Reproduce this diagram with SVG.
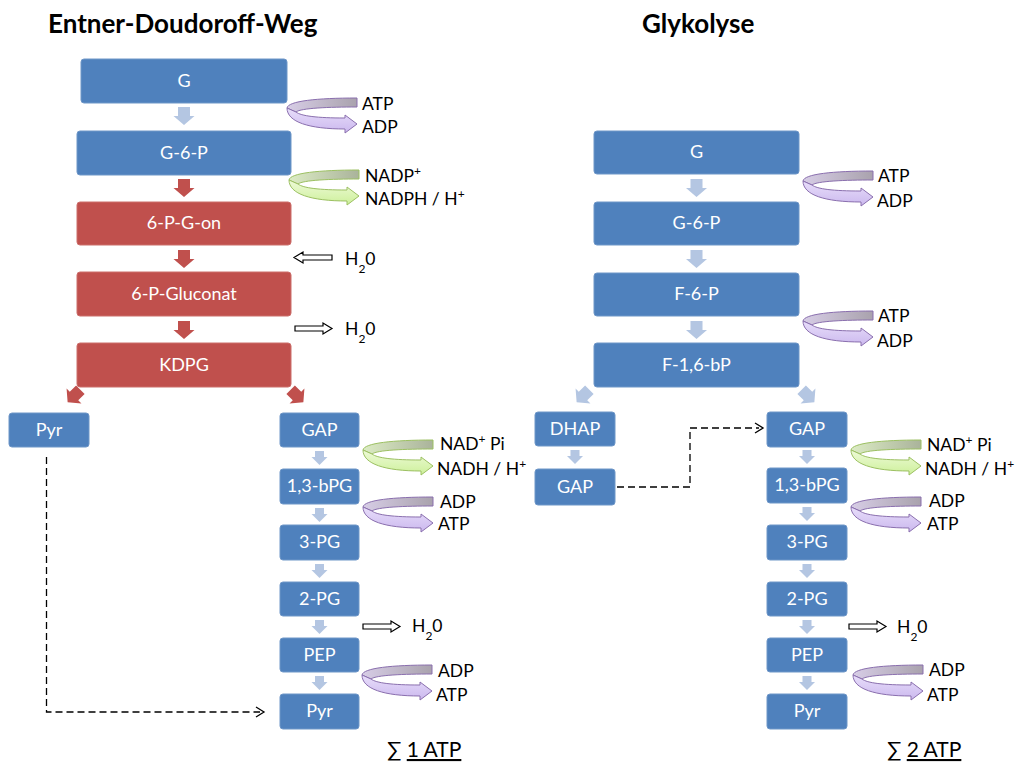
<svg xmlns="http://www.w3.org/2000/svg" xmlns:xlink="http://www.w3.org/1999/xlink" width="1015" height="764" viewBox="0 0 1015 764">
  <style>
    .title { font-family: Lato, "Liberation Sans", sans-serif; font-weight: bold; font-size: 26px; fill: #000; }
    .box-b { fill: #4f81bd; stroke: #6f97c8; stroke-width: 1; }
    .box-r { fill: #c0504d; stroke: #cc6e6b; stroke-width: 1; }
    .lbl { font-family: Lato, "Liberation Sans", sans-serif; font-size: 18px; fill: #fff; text-anchor: middle; }
    .side { font-family: Lato, "Liberation Sans", sans-serif; font-size: 17.5px; fill: #000; }
    .sum { font-family: Lato, "Liberation Sans", sans-serif; font-size: 21px; fill: #000; }
    .arr-b { fill: #b4c6e2; }
    .arr-r { fill: #c0504d; }
    .h2o { fill: #fff; stroke: #000; stroke-width: 1.2; }
    .dash { fill: none; stroke: #000; stroke-width: 1.3; stroke-dasharray: 7 4; }
    .head { fill: none; stroke: #000; stroke-width: 1.3; }
  </style>
  <defs>
    <linearGradient id="backP" x1="0" y1="0" x2="1" y2="0">
      <stop offset="0" stop-color="#d7cde6"/>
      <stop offset="1" stop-color="#a9a2ad"/>
    </linearGradient>
    <linearGradient id="frontP" x1="0" y1="0" x2="0" y2="1">
      <stop offset="0" stop-color="#e8defa"/>
      <stop offset="1" stop-color="#cbb8ee"/>
    </linearGradient>
    <linearGradient id="backG" x1="0" y1="0" x2="1" y2="0">
      <stop offset="0" stop-color="#dcecc4"/>
      <stop offset="1" stop-color="#aab39b"/>
    </linearGradient>
    <linearGradient id="frontG" x1="0" y1="0" x2="0" y2="1">
      <stop offset="0" stop-color="#eefad8"/>
      <stop offset="1" stop-color="#cdf09a"/>
    </linearGradient>
    <!-- curled ribbon arrow: back band + front band with head -->
    <g id="loopP">
      <path d="M70,0 L70,9 C42,9 14,10 9,14 L0,10 C1,3 30,0 70,0 Z" fill="url(#backP)" stroke="#8a6fae" stroke-width="1"/>
      <path d="M0,10 C0,24 22,31 58,31 L58,35 L70,26 L58,17 L58,20 C30,20 14,18 9,14 Z" fill="url(#frontP)" stroke="#8a6fae" stroke-width="1"/>
    </g>
    <g id="loopG">
      <path d="M70,0 L70,9 C42,9 14,10 9,14 L0,10 C1,3 30,0 70,0 Z" fill="url(#backG)" stroke="#9cc062" stroke-width="1"/>
      <path d="M0,10 C0,24 22,31 58,31 L58,35 L70,26 L58,17 L58,20 C30,20 14,18 9,14 Z" fill="url(#frontG)" stroke="#9cc062" stroke-width="1"/>
    </g>
    <!-- block arrows pointing down, origin at top centre -->
    <path id="bigDown" d="M-6,0 H6 V9 H10.5 L0,18 L-10.5,9 H-6 Z"/>
    <path id="bigDiag" d="M-6,-9 H6 V0 H10.5 L0,9 L-10.5,0 H-6 Z"/>
    <path id="smallDown" d="M-4.5,0 H4.5 V6 H8 L0,14 L-8,6 H-4.5 Z"/>
  </defs>

  <rect width="1015" height="764" fill="#fff"/>

  <text class="title" x="48" y="33">Entner-Doudoroff-Weg</text>
  <text class="title" x="642" y="33">Glykolyse</text>

  <!-- connectors -->
  <g id="connectors">
    <!-- Entner-Doudoroff main chain -->
    <use xlink:href="#bigDown" class="arr-b" x="184" y="107"/>
    <use xlink:href="#bigDown" class="arr-r" x="184" y="179"/>
    <use xlink:href="#bigDown" class="arr-r" x="184" y="250"/>
    <use xlink:href="#bigDown" class="arr-r" x="184" y="321"/>
    <use xlink:href="#bigDiag" class="arr-r" transform="translate(74,396) rotate(45)"/>
    <use xlink:href="#bigDiag" class="arr-r" transform="translate(297,396) rotate(-45)"/>
    <use xlink:href="#smallDown" class="arr-b" x="319.5" y="451"/>
    <use xlink:href="#smallDown" class="arr-b" x="319.5" y="508"/>
    <use xlink:href="#smallDown" class="arr-b" x="319.5" y="564"/>
    <use xlink:href="#smallDown" class="arr-b" x="319.5" y="620"/>
    <use xlink:href="#smallDown" class="arr-b" x="319.5" y="676"/>
    <path class="dash" d="M46.5,457 V712 H260"/>
    <path class="head" d="M256,707 L264,712 L256,717"/>

    <!-- Glykolyse main chain -->
    <use xlink:href="#bigDown" class="arr-b" x="696.5" y="179"/>
    <use xlink:href="#bigDown" class="arr-b" x="696.5" y="250"/>
    <use xlink:href="#bigDown" class="arr-b" x="696.5" y="321"/>
    <use xlink:href="#bigDiag" class="arr-b" transform="translate(583,396) rotate(45)"/>
    <use xlink:href="#bigDiag" class="arr-b" transform="translate(808,396) rotate(-45)"/>
    <use xlink:href="#smallDown" class="arr-b" x="575" y="450"/>
    <use xlink:href="#smallDown" class="arr-b" x="807" y="450"/>
    <use xlink:href="#smallDown" class="arr-b" x="807" y="507"/>
    <use xlink:href="#smallDown" class="arr-b" x="807" y="564"/>
    <use xlink:href="#smallDown" class="arr-b" x="807" y="620"/>
    <use xlink:href="#smallDown" class="arr-b" x="807" y="676"/>
    <path class="dash" d="M617,487 H690 V428 H759"/>
    <path class="head" d="M755,423 L763,428 L755,433"/>

    <!-- cofactor loops, Entner-Doudoroff -->
    <use xlink:href="#loopP" x="287" y="98"/>
    <use xlink:href="#loopG" x="289" y="170"/>
    <use xlink:href="#loopG" x="363" y="440"/>
    <use xlink:href="#loopP" x="363" y="497"/>
    <use xlink:href="#loopP" x="362" y="665"/>
    <!-- cofactor loops, Glykolyse -->
    <use xlink:href="#loopP" x="803" y="171"/>
    <use xlink:href="#loopP" x="803" y="311"/>
    <use xlink:href="#loopG" x="851" y="440"/>
    <use xlink:href="#loopP" x="851" y="497"/>
    <use xlink:href="#loopP" x="853" y="665"/>

    <!-- water in / out -->
    <path class="h2o" d="M332,255 H303 V252 L294,257.5 L303,263 V260 H332 Z"/>
    <path class="h2o" d="M295,326 H323 V323 L332,328.5 L323,334 V331 H295 Z"/>
    <path class="h2o" d="M363,624 H391 V621 L400,626.5 L391,632 V629 H363 Z"/>
    <path class="h2o" d="M849,624 H877 V621 L886,626.5 L877,632 V629 H849 Z"/>
  </g>

  <!-- Entner-Doudoroff nodes -->
  <g id="ed-g"><rect class="box-b" x="81" y="59" width="206" height="44" rx="3"/><text class="lbl" x="184" y="87">G</text></g>
  <g id="ed-g6p"><rect class="box-b" x="77" y="131" width="214" height="44" rx="3"/><text class="lbl" x="184" y="159">G-6-P</text></g>
  <g id="ed-6pgon"><rect class="box-r" x="77" y="202" width="214" height="43" rx="3"/><text class="lbl" x="184" y="229">6-P-G-on</text></g>
  <g id="ed-6pgluconat"><rect class="box-r" x="77" y="272" width="214" height="44" rx="3"/><text class="lbl" x="184" y="300">6-P-Gluconat</text></g>
  <g id="ed-kdpg"><rect class="box-r" x="77" y="343" width="214" height="44" rx="3"/><text class="lbl" x="184" y="371">KDPG</text></g>
  <g id="ed-pyr1"><rect class="box-b" x="9" y="413" width="80" height="34" rx="3"/><text class="lbl" x="49" y="436">Pyr</text></g>
  <g id="ed-gap"><rect class="box-b" x="280" y="413" width="79" height="34" rx="3"/><text class="lbl" x="319.5" y="436">GAP</text></g>
  <g id="ed-13bpg"><rect class="box-b" x="280" y="469" width="79" height="35" rx="3"/><text class="lbl" x="319.5" y="492">1,3-bPG</text></g>
  <g id="ed-3pg"><rect class="box-b" x="280" y="525" width="79" height="35" rx="3"/><text class="lbl" x="319.5" y="548">3-PG</text></g>
  <g id="ed-2pg"><rect class="box-b" x="280" y="582" width="79" height="34" rx="3"/><text class="lbl" x="319.5" y="605">2-PG</text></g>
  <g id="ed-pep"><rect class="box-b" x="280" y="638" width="79" height="34" rx="3"/><text class="lbl" x="319.5" y="661">PEP</text></g>
  <g id="ed-pyr2"><rect class="box-b" x="280" y="694" width="79" height="35" rx="3"/><text class="lbl" x="319.5" y="717">Pyr</text></g>

  <!-- Glykolyse nodes -->
  <g id="gl-g"><rect class="box-b" x="594" y="131" width="205" height="43" rx="3"/><text class="lbl" x="696.5" y="158">G</text></g>
  <g id="gl-g6p"><rect class="box-b" x="594" y="202" width="205" height="43" rx="3"/><text class="lbl" x="696.5" y="229">G-6-P</text></g>
  <g id="gl-f6p"><rect class="box-b" x="594" y="273" width="205" height="43" rx="3"/><text class="lbl" x="696.5" y="300">F-6-P</text></g>
  <g id="gl-f16bp"><rect class="box-b" x="594" y="343" width="205" height="44" rx="3"/><text class="lbl" x="696.5" y="371">F-1,6-bP</text></g>
  <g id="gl-dhap"><rect class="box-b" x="535" y="412" width="80" height="34" rx="3"/><text class="lbl" x="575" y="435">DHAP</text></g>
  <g id="gl-gap1"><rect class="box-b" x="535" y="469" width="80" height="36" rx="3"/><text class="lbl" x="575" y="493">GAP</text></g>
  <g id="gl-gap2"><rect class="box-b" x="767" y="412" width="80" height="35" rx="3"/><text class="lbl" x="807" y="435">GAP</text></g>
  <g id="gl-13bpg"><rect class="box-b" x="767" y="468" width="80" height="35" rx="3"/><text class="lbl" x="807" y="491">1,3-bPG</text></g>
  <g id="gl-3pg"><rect class="box-b" x="767" y="525" width="80" height="35" rx="3"/><text class="lbl" x="807" y="548">3-PG</text></g>
  <g id="gl-2pg"><rect class="box-b" x="767" y="582" width="80" height="34" rx="3"/><text class="lbl" x="807" y="605">2-PG</text></g>
  <g id="gl-pep"><rect class="box-b" x="767" y="638" width="80" height="34" rx="3"/><text class="lbl" x="807" y="661">PEP</text></g>
  <g id="gl-pyr"><rect class="box-b" x="767" y="694" width="80" height="35" rx="3"/><text class="lbl" x="807" y="717">Pyr</text></g>

  <!-- cofactor labels, Entner-Doudoroff -->
  <g id="ed-labels">
    <text class="side" x="362" y="110">ATP</text>
    <text class="side" x="362" y="133">ADP</text>
    <text class="side" x="365" y="182">NADP<tspan font-size="12" baseline-shift="super">+</tspan></text>
    <text class="side" x="365" y="205">NADPH / H<tspan font-size="12" baseline-shift="super">+</tspan></text>
    <text class="side" x="345" y="265">H<tspan font-size="12" baseline-shift="sub">2</tspan>0</text>
    <text class="side" x="345" y="335">H<tspan font-size="12" baseline-shift="sub">2</tspan>0</text>
    <text class="side" x="440" y="450">NAD<tspan font-size="12" baseline-shift="super">+</tspan> Pi</text>
    <text class="side" x="437" y="475">NADH / H<tspan font-size="12" baseline-shift="super">+</tspan></text>
    <text class="side" x="440" y="508">ADP</text>
    <text class="side" x="438" y="530">ATP</text>
    <text class="side" x="412" y="632">H<tspan font-size="12" baseline-shift="sub">2</tspan>0</text>
    <text class="side" x="438" y="677">ADP</text>
    <text class="side" x="436" y="701">ATP</text>
    <text class="sum" x="387" y="757">∑ <tspan text-decoration="underline">1 ATP</tspan></text>
  </g>

  <!-- cofactor labels, Glykolyse -->
  <g id="gl-labels">
    <text class="side" x="878" y="182">ATP</text>
    <text class="side" x="877" y="207">ADP</text>
    <text class="side" x="878" y="322">ATP</text>
    <text class="side" x="877" y="347">ADP</text>
    <text class="side" x="927" y="451">NAD<tspan font-size="12" baseline-shift="super">+</tspan> Pi</text>
    <text class="side" x="925" y="475">NADH / H<tspan font-size="12" baseline-shift="super">+</tspan></text>
    <text class="side" x="929" y="507">ADP</text>
    <text class="side" x="927" y="530">ATP</text>
    <text class="side" x="897" y="633">H<tspan font-size="12" baseline-shift="sub">2</tspan>0</text>
    <text class="side" x="929" y="676">ADP</text>
    <text class="side" x="927" y="701">ATP</text>
    <text class="sum" x="887" y="757">∑ <tspan text-decoration="underline">2 ATP</tspan></text>
  </g>
</svg>
